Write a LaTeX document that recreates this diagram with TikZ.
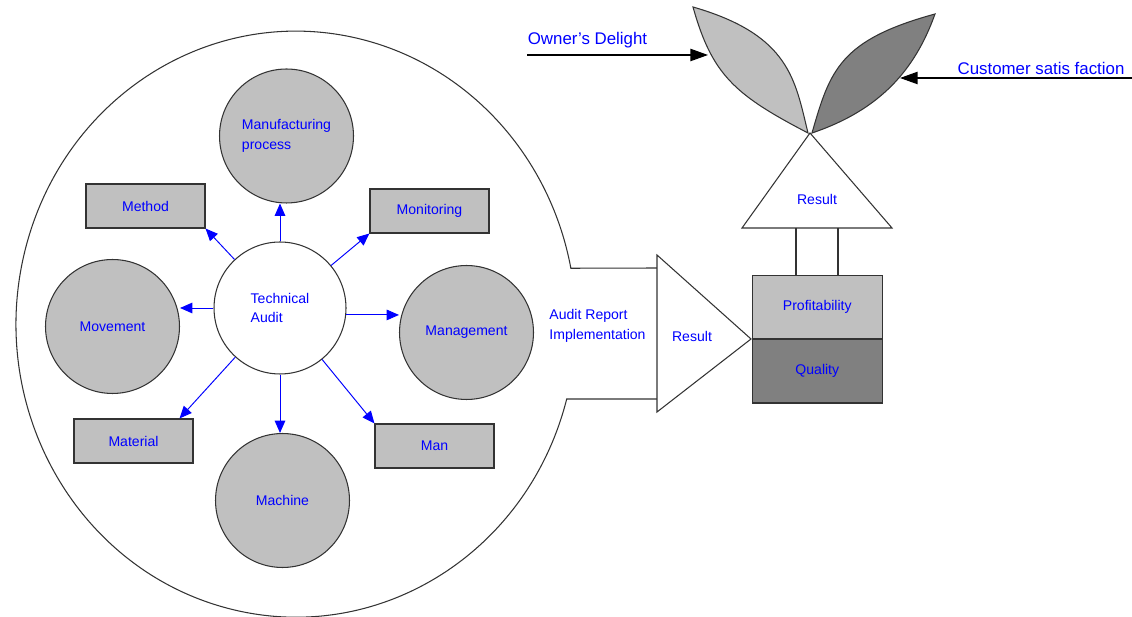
\documentclass[tikz,border=0pt]{standalone}
\usepackage{fontspec}
\setmainfont{Liberation Sans}
\usetikzlibrary{arrows.meta,positioning,calc}

\definecolor{lightfill}{RGB}{192,192,192}
\definecolor{darkfill}{RGB}{128,128,128}
\definecolor{labelblue}{RGB}{0,0,255}

\begin{document}
\begin{tikzpicture}[
      x=0.02cm, y=-0.02cm,
      every node/.style={font=\fontsize{8}{11.3}\selectfont, text=labelblue},
      ball/.style={draw=black!80, line width=0.6pt, circle, fill=lightfill,
                   minimum size=2.68cm, inner sep=0pt, align=left},
      factor/.style={draw=black!80, line width=0.6pt, fill=lightfill,
                     minimum width=2.38cm, minimum height=0.88cm, inner sep=0pt},
      outline/.style={draw=black!80, line width=0.6pt},
      link/.style={draw=labelblue, line width=0.55pt, -{Triangle[length=7pt,width=6pt]}},
      feed/.style={draw=black, line width=0.7pt, -{Triangle[length=10pt,width=7pt]}},
      bigtext/.style={font=\fontsize{9.6}{12}\selectfont}]
    \useasboundingbox (0,0) rectangle (1132,617);

    % outer boundary of the audit area
    \draw[outline] (657,399) -- (566.7,399)
      arc[start angle=14.8, end angle=349, x radius=280, y radius=293] -- (657,268);

    % audit factors
    \node[ball] (manu) at (286.5,136) {Manufacturing\\process};
    \node[ball] (move) at (112.5,326.5) {Movement};
    \node[ball] (mgmt) at (466.5,332.5) {Management};
    \node[ball] (mach) at (282.5,500.5) {Machine};
    \node[factor] (meth) at (145.5,206) {Method};
    \node[factor] (moni) at (429.5,211) {Monitoring};
    \node[factor] (mat) at (133.5,441) {Material};
    \node[factor] (man) at (434.5,446) {Man};
    \node[ball, fill=white, minimum size=2.64cm] (ta) at (280,308) {Technical\\Audit};

    \draw[link] (ta.north) -- (ta.north |- manu.south);
    \draw[link] (ta) -- (meth.south east);
    \draw[link] (ta) -- (moni.south west);
    \draw[link] (ta.west) -- (ta.west -| move.east);
    \draw[link] (ta.-6) -- (ta.-6 -| mgmt.west);
    \draw[link] (ta) -- ($(mat.north east)+(-14,0)$);
    \draw[link] (ta.south) -- (ta.south |- mach.north);
    \draw[link] (ta) -- (man.north west);

    \node[align=left] (arep) at (597.5,326) {Audit Report\\Implementation};

    % result triangles
    \coordinate (rA1) at (657,255);
    \coordinate (rA2) at (751,339);
    \coordinate (rA3) at (657,412);
    \draw[outline, fill=white] (rA1) -- (rA2) -- (rA3) -- cycle;
    \node (resA) at (692,336) {Result};

    \node[outline, fill=lightfill, minimum width=2.61cm, minimum height=1.25cm,
          inner sep=0pt] (prof) at (817.3,307.2) {Profitability};
    \node[outline, fill=darkfill, minimum width=2.61cm, minimum height=1.27cm,
          inner sep=0pt, below=0pt of prof] (qual) {Quality};

    \coordinate (rB1) at (810,133);
    \coordinate (rB2) at (892,228);
    \coordinate (rB3) at (742,228);
    \draw[outline, fill=white] (rB1) -- (rB2) -- (rB3) -- cycle;
    \node (resB) at (817,199) {Result};

    \coordinate (postL) at (796,228);
    \coordinate (postR) at (838,228);
    \draw[outline] (postL) -- (postL |- prof.north);
    \draw[outline] (postR) -- (postR |- prof.north);

    % leaves
    \draw[outline, fill=lightfill] (693,7) .. controls (790,35) and (795,80) .. (808,133)
      .. controls (735,95) and (712,75) .. cycle;
    \draw[outline, fill=darkfill] (935,14) .. controls (915,70) and (880,110) .. (812,133)
      .. controls (830,70) and (840,40) .. cycle;

    \node[bigtext] (owner) at (587.5,40) {Owner's Delight};
    \coordinate (ownertail) at (527,55);
    \coordinate (ownerhit) at (708,55);
    \draw[feed] (ownertail) -- (ownerhit);

    \node[bigtext] (cust) at (1041,68.5) {Customer satis faction};
    \coordinate (custtail) at (1132,78);
    \coordinate (custhit) at (900,78);
    \draw[feed] (custtail) -- (custhit);
  \end{tikzpicture}
\end{document}
